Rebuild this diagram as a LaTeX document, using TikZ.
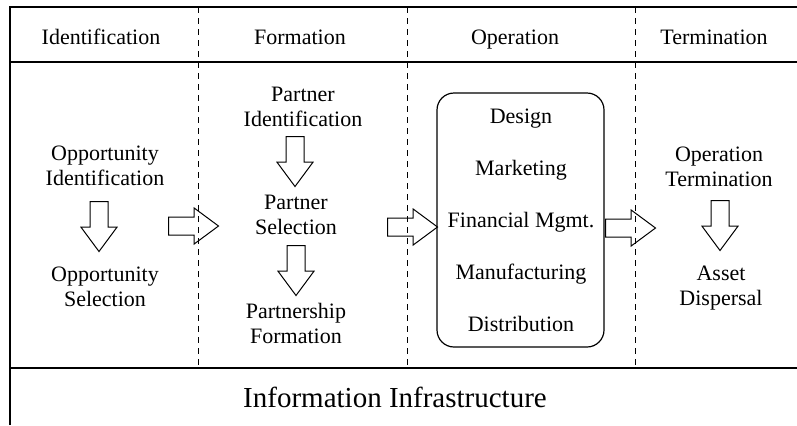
\documentclass[tikz,border=0pt]{standalone}
\usepackage{fontspec}
\setmainfont{Liberation Serif}
\usetikzlibrary{shapes.arrows}

\begin{document}
\begin{tikzpicture}[x=0.5pt,y=-0.5pt,
    lbl/.style={align=center,font=\fontsize{11}{12.5}\selectfont,inner sep=0pt},
    sep/.style={dash pattern=on 3pt off 2.5pt,line width=0.5pt},
    bigarrow/.style={single arrow,draw,line width=0.5pt,minimum height=25pt,minimum width=0pt,
      inner sep=4.25pt,single arrow head extend=4.5pt,single arrow tip angle=73,anchor=tail}]
      \useasboundingbox (0,0) rectangle (797,425);
      % frame
      \draw[line width=0.7pt] (10,425) -- (10,7) -- (797,7);
      \draw[line width=0.7pt] (10,62) -- (797,62);
      \draw[line width=0.7pt] (10,368) -- (797,368);
      \draw[sep] (198,7) -- (198,368);
      \draw[sep] (407,7) -- (407,368);
      \draw[sep] (635,7) -- (635,368);

      % phases
      \node[lbl,anchor=base] (identification) at (101,44){Identification};
      \node[lbl,anchor=base] (formation) at (300,44){Formation};
      \node[lbl,anchor=base] (operation) at (515,44){Operation};
      \node[lbl,anchor=base] (termination) at (714,44){Termination};

      % identification
      \node[lbl] (oppid) at (105,166){Opportunity\\Identification};
      \node[bigarrow,shape border rotate=270] (d1) at (99,201){};
      \node[lbl] (oppsel) at (105,287){Opportunity\\Selection};

      % formation
      \node[lbl] (partid) at (303,107){Partner\\Identification};
      \node[bigarrow,shape border rotate=270] (d2) at (295,136){};
      \node[lbl] (partsel) at (296,215){Partner\\Selection};
      \node[bigarrow,shape border rotate=270] (d3) at (296,245){};
      \node[lbl] (partform) at (296,323){Partnership\\Formation};

      % operation
      \node[draw,line width=0.6pt,rounded corners=8.5pt,minimum width=83.5pt,minimum height=127pt] (opbox) at (520.5,220){};
      \node[lbl,anchor=base] (design) at (521,123){Design};
      \node[lbl,anchor=base] (marketing) at (521,175){Marketing};
      \node[lbl,anchor=base] (finance) at (521,227){Financial Mgmt.};
      \node[lbl,anchor=base] (manufacturing) at (521,279){Manufacturing};
      \node[lbl,anchor=base] (distribution) at (521,331){Distribution};

      % termination
      \node[lbl] (opterm) at (719,167){Operation\\Termination};
      \node[bigarrow,shape border rotate=270] (d4) at (720,200){};
      \node[lbl] (asset) at (721,288){Asset\\Dispersal};

      % between phases
      \node[bigarrow] (r1) at (168,226){};
      \node[bigarrow] (r2) at (387,227){};
      \node[bigarrow] (r3) at (605,228){};

      \node[lbl,font=\fontsize{14.5}{16}\selectfont] (infra) at (395,397){Information Infrastructure};
    \end{tikzpicture}
\end{document}
